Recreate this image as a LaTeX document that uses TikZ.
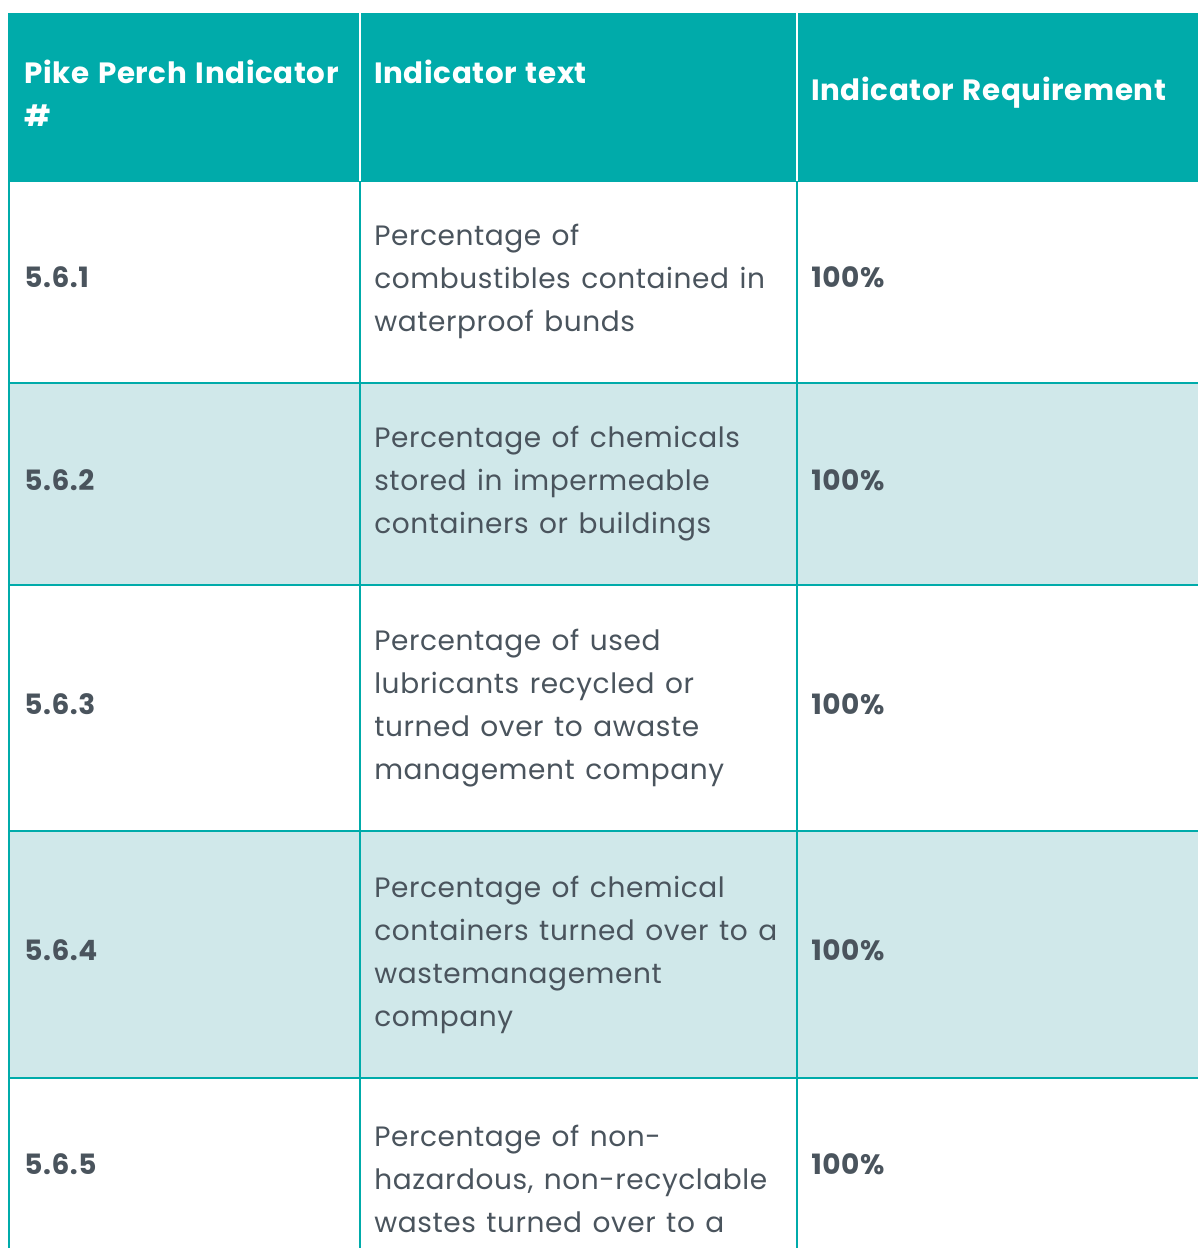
\documentclass[tikz,border=0pt]{standalone}
\usepackage{fontspec}
\setmainfont{Poppins}[LetterSpace=2.1,WordSpace=1.3]
\definecolor{pikehead}{HTML}{00ABAA}
\definecolor{pikeband}{HTML}{D0E8EA}
\definecolor{pikeink}{HTML}{4A545D}
\begin{document}
\begin{tikzpicture}[x=0.75pt,y=-0.75pt,
  headtxt/.style={anchor=west,align=left,inner sep=0pt,text=white,font=\fontsize{22}{32.25}\selectfont\bfseries},
  celltxt/.style={anchor=west,align=left,inner sep=0pt,text=pikeink,font=\fontsize{21}{32.25}\selectfont},
  idtxt/.style={celltxt,font=\fontsize{21}{32.25}\selectfont\bfseries},
  rule/.style={draw=pikehead,line width=1.5pt}]
  \useasboundingbox (0,0) rectangle (1198,1248);
  \fill[white] (0,0) rectangle (1198,1248);

  % header and shaded rows
  \fill[pikehead] (8,13) rectangle (1198,181);
  \fill[pikeband] (8,383) rectangle (1198,585);
  \fill[pikeband] (8,831) rectangle (1198,1078);

  % grid
  \foreach \y in {181,383,585,831,1078}
    \draw[rule] (8,\y) -- (1198,\y);
  \foreach \x in {9,360,797}
    \draw[rule] (\x,181) -- (\x,1248);
  \foreach \x in {360,797}
    \draw[white,line width=1pt] (\x,13) -- (\x,181);

  % header
  \node[headtxt] (h1) at (24,93.5) {Pike Perch Indicator\\\#};
  \node[headtxt] (h2) at (374,72) {Indicator text};
  \node[headtxt] (h3) at (811,93) {Indicator Requirement};

  % row 1
  \node[idtxt] (id1) at (24,277) {5.6.1};
  \node[celltxt] (t1) at (374,281) {Percentage of\\combustibles contained in\\waterproof bunds};
  \node[idtxt] (r1) at (811,277) {100\%};

  % row 2
  \node[idtxt] (id2) at (24,480) {5.6.2};
  \node[celltxt] (t2) at (374,484) {Percentage of chemicals\\stored in impermeable\\containers or buildings};
  \node[idtxt] (r2) at (811,480) {100\%};

  % row 3
  \node[idtxt] (id3) at (24,704) {5.6.3};
  \node[celltxt] (t3) at (374,708.5) {Percentage of used\\lubricants recycled or\\turned over to awaste\\management company};
  \node[idtxt] (r3) at (811,704) {100\%};

  % row 4
  \node[idtxt] (id4) at (24,950) {5.6.4};
  \node[celltxt] (t4) at (374,954.5) {Percentage of chemical\\containers turned over to a\\wastemanagement\\company};
  \node[idtxt] (r4) at (811,950) {100\%};

  % row 5
  \node[idtxt] (id5) at (24,1164) {5.6.5};
  \node[celltxt] (t5) at (374,1179) {Percentage of non-\\hazardous, non-recyclable\\wastes turned over to a};
  \node[idtxt] (r5) at (811,1164) {100\%};
\end{tikzpicture}
\end{document}
